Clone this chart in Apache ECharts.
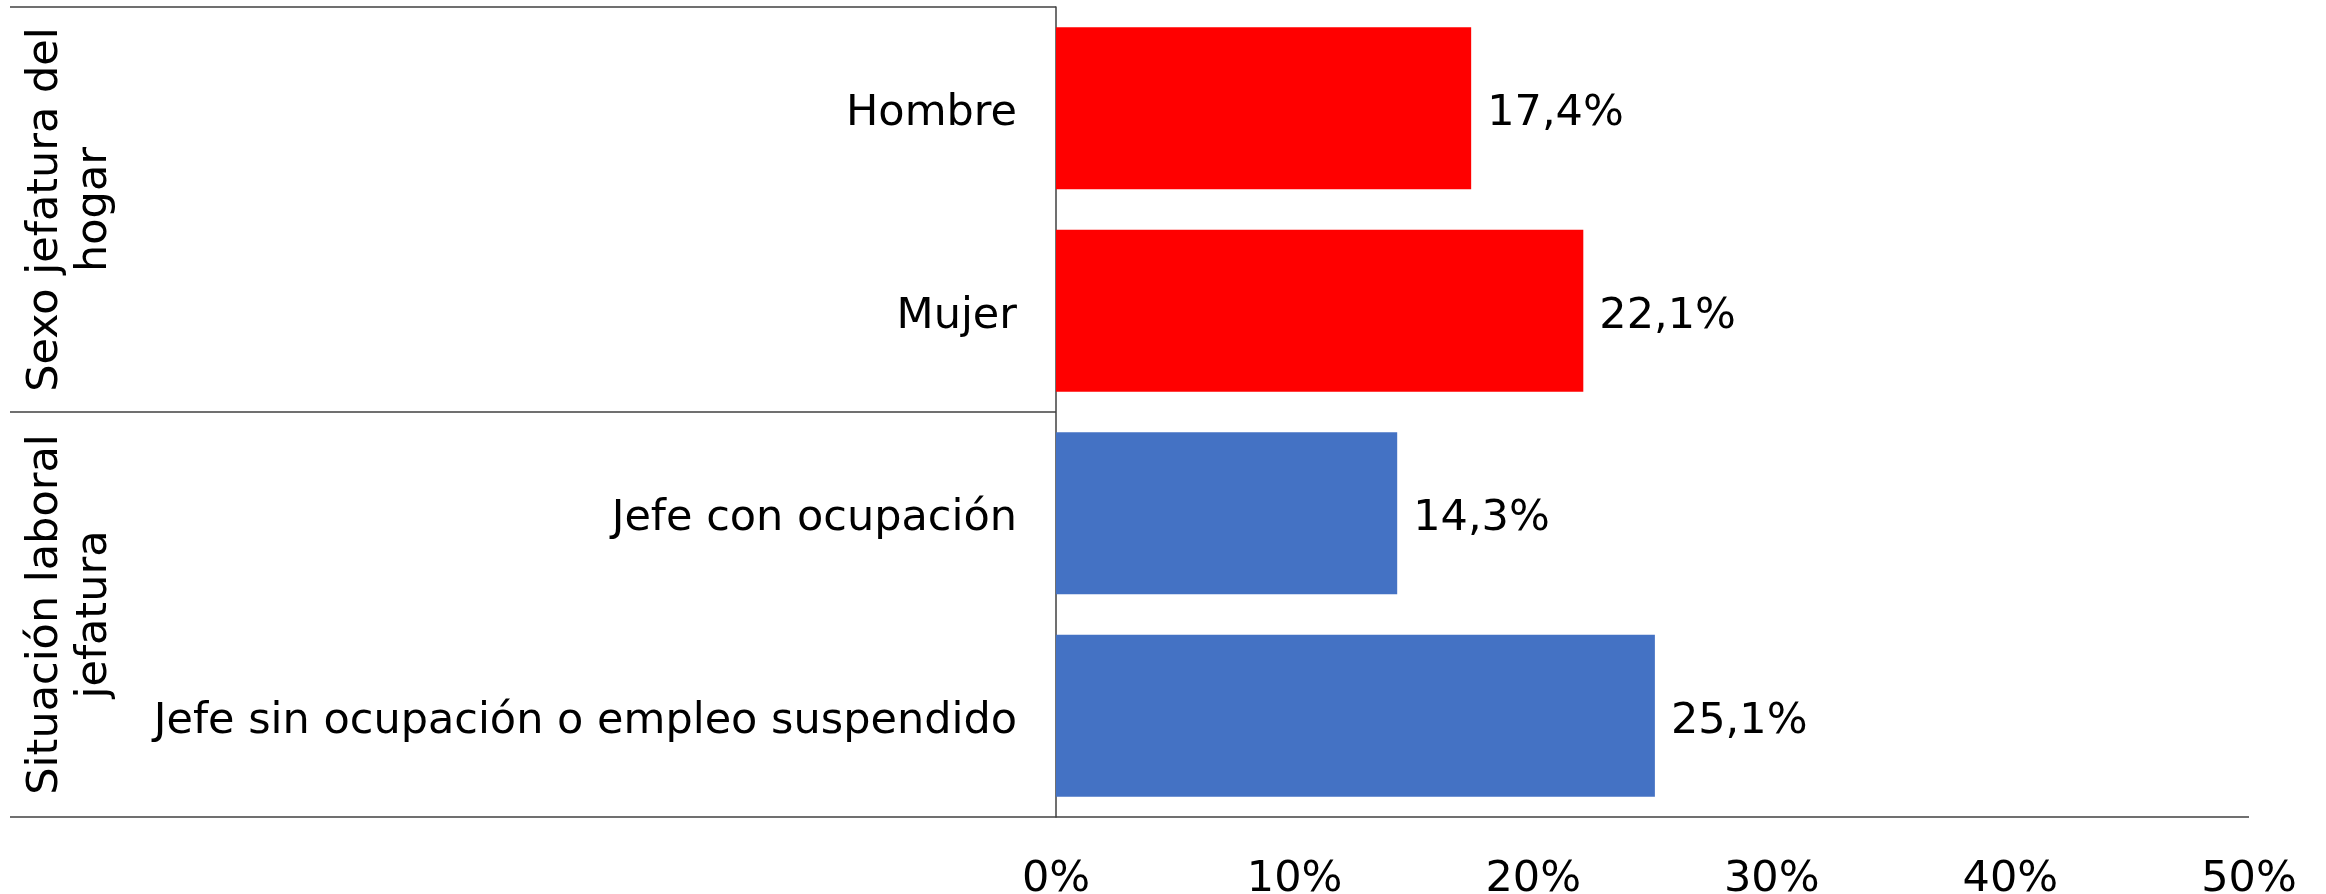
<!DOCTYPE html>
<html>
<head>
<meta charset="utf-8">
<script src="https://cdn.jsdelivr.net/npm/echarts@6/dist/echarts.min.js"></script>
<style>
  html, body { margin: 0; padding: 0; background: #fff; }
  #chart { width: 2326px; height: 894px; }
</style>
</head>
<body>
<div id="chart"></div>
<script>
var categories = ['Hombre', 'Mujer', 'Jefe con ocupación', 'Jefe sin ocupación o empleo suspendido'];
var values = [17.4, 22.1, 14.3, 25.1];
var barColors = ['#FF0000', '#FF0000', '#4472C4', '#4472C4'];
var groups = ['Sexo jefatura del\nhogar', 'Situación laboral\njefatura'];
var groupSize = [2, 2];
var xTicks = [0, 10, 20, 30, 40, 50];

var font = 'DejaVu Sans, Verdana, sans-serif';
var lineColor = '#404040';

var chart = echarts.init(document.getElementById('chart'));

var barData = [];
for (var i = 0; i < values.length; i++) {
    barData.push({ value: values[i], itemStyle: { color: barColors[i] } });
}

chart.setOption({
    animation: false,
    grid: { left: 1056, right: 77, top: 7, bottom: 77, outerBoundsMode: 'none' },
    xAxis: {
        type: 'value',
        min: xTicks[0],
        max: xTicks[xTicks.length - 1],
        interval: 10,
        axisLine: { show: false },
        axisTick: { show: false },
        splitLine: { show: false },
        axisLabel: {
            formatter: '{value}%',
            fontSize: 43,
            fontFamily: font,
            color: '#000',
            margin: 41
        }
    },
    yAxis: {
        type: 'category',
        inverse: true,
        data: categories,
        axisLine: { show: true, lineStyle: { color: lineColor, width: 1.5 } },
        axisTick: { show: false },
        axisLabel: {
            margin: 39,
            formatter: function (v) { return '{c|' + v + '}'; },
            rich: {
                c: {
                    fontSize: 43,
                    fontFamily: font,
                    color: '#000',
                    padding: [12, 0, 0, 0]
                }
            }
        }
    },
    series: [{
        type: 'bar',
        data: barData,
        barCategoryGap: '20%',
        label: {
            show: true,
            position: 'right',
            distance: 16,
            offset: [0, 6],
            fontSize: 43,
            fontFamily: font,
            color: '#000',
            formatter: function (p) {
                return p.value.toFixed(1).replace('.', ',') + '%';
            }
        }
    }]
});

// group boxes: lines and rotated labels from the axis scale
function drawGroups() {
    var leftX = 10;
    var axisX = chart.convertToPixel({ xAxisIndex: 0 }, 0);
    var endX = chart.convertToPixel({ xAxisIndex: 0 }, xTicks[xTicks.length - 1]);
    var bandH = chart.convertToPixel({ yAxisIndex: 0 }, 1) - chart.convertToPixel({ yAxisIndex: 0 }, 0);
    var firstY = chart.convertToPixel({ yAxisIndex: 0 }, 0) - bandH / 2;
    var elements = [];
    var start = 0;
    elements.push({
        type: 'line',
        shape: { x1: leftX, y1: firstY, x2: axisX, y2: firstY },
        style: { stroke: lineColor, lineWidth: 1.5 }
    });
    for (var g = 0; g < groups.length; g++) {
        var y0 = firstY + start * bandH;
        var y1 = firstY + (start + groupSize[g]) * bandH;
        var last = g === groups.length - 1;
        elements.push({
            type: 'line',
            shape: { x1: leftX, y1: y1, x2: last ? endX : axisX, y2: y1 },
            style: { stroke: lineColor, lineWidth: 1.5 }
        });
        elements.push({
            type: 'text',
            x: 70,
            y: (y0 + y1) / 2,
            rotation: Math.PI / 2,
            style: {
                text: groups[g],
                font: '43px ' + font,
                fill: '#000',
                align: 'center',
                verticalAlign: 'middle',
                lineHeight: 49
            }
        });
        start += groupSize[g];
    }
    chart.setOption({ graphic: { elements: elements } });
}
drawGroups();
</script>
</body>
</html>
